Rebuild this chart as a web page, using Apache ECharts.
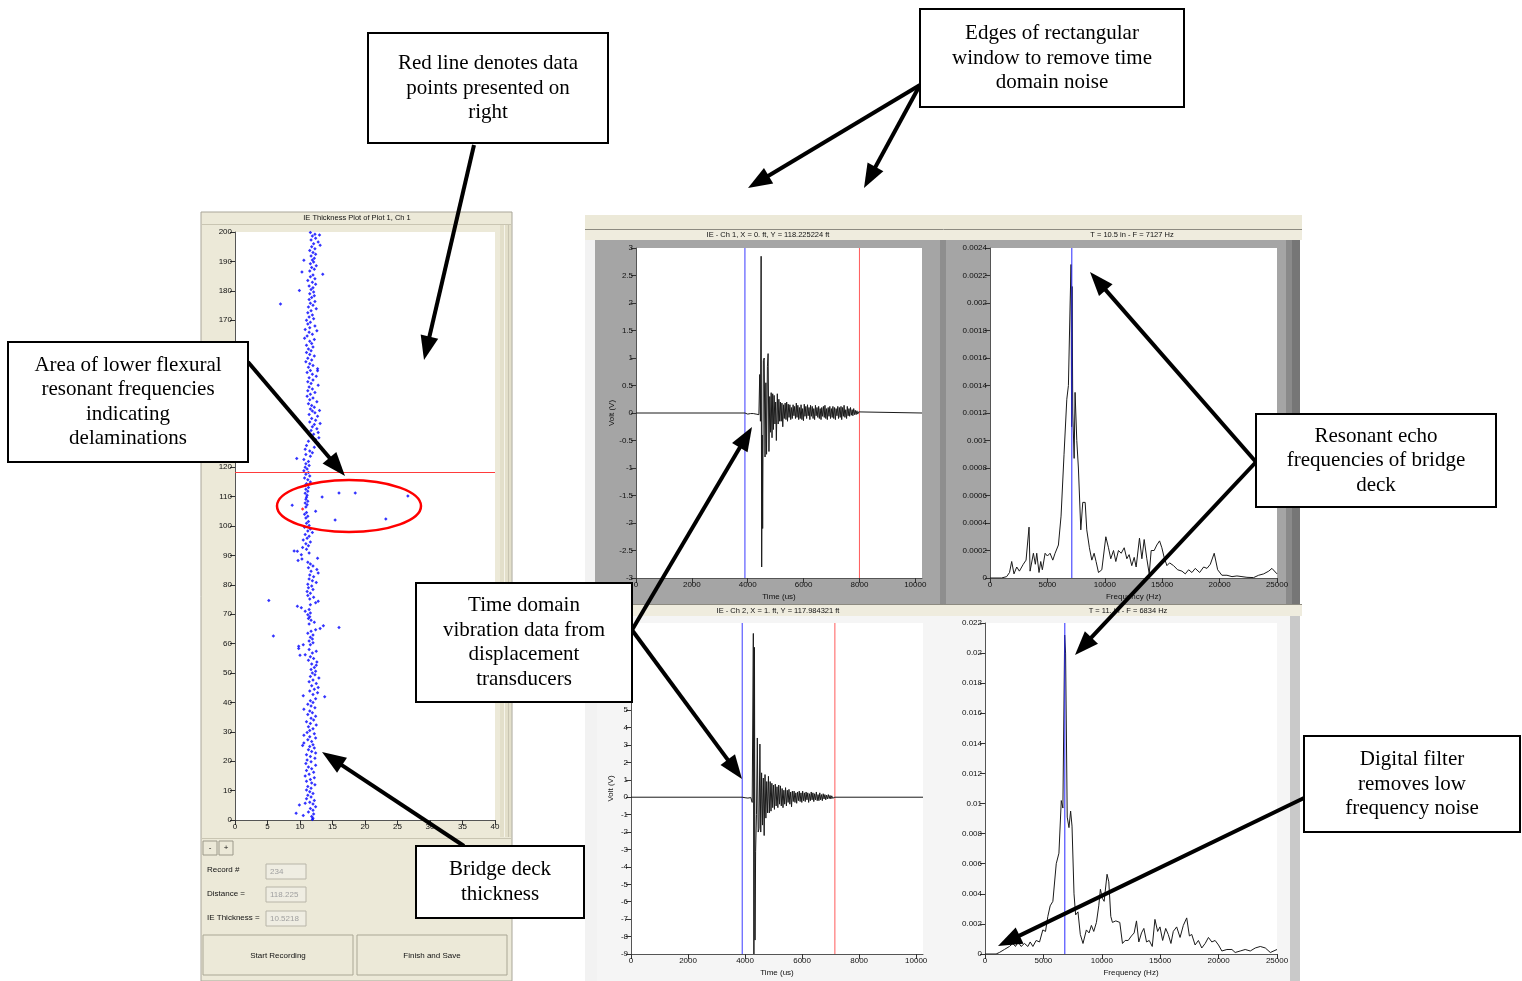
<!DOCTYPE html>
<html><head><meta charset="utf-8">
<script src="https://cdn.jsdelivr.net/npm/echarts@6/dist/echarts.min.js"></script>
<style>html,body{margin:0;padding:0;background:#fff}#c{width:1522px;height:981px}</style>
</head><body><div id="c"></div>
<script>
// ---------- DATA ----------
// IE thickness (in) vs distance (ft)
const thicknessPoints = [
[11.6,199.8],[12.3,199.2],[13.0,199.0],[11.9,198.6],[12.4,197.9],[11.7,197.3],[12.8,196.6],[12.1,196.0],[13.1,195.5],[11.8,195.0],[12.3,194.3],[11.5,193.7],[12.0,193.0],[12.4,192.4],[11.7,191.8],[12.2,191.1],[11.9,190.5],[10.6,190.4],
[12.1,189.8],[11.6,189.2],[12.5,188.5],[11.8,187.9],[12.2,187.3],[10.3,186.4],[11.5,186.7],[13.5,185.6],[12.0,185.4],[11.6,184.8],[12.3,184.1],[11.2,183.5],[11.9,182.9],[12.4,182.2],[11.4,181.6],[12.0,181.0],[11.7,180.4],[9.9,180.1],
[12.1,179.6],[11.5,179.0],[12.2,178.3],[11.8,177.7],[11.4,177.0],[12.3,176.4],[11.6,175.8],[7.0,175.5],[12.0,175.1],[11.3,174.5],[12.5,173.9],[11.7,173.2],[11.2,172.5],[11.9,171.8],[11.4,171.1],[12.1,170.5],[11.0,170.0],
[11.6,169.3],[11.2,168.7],[12.3,168.0],[11.5,167.4],[10.8,166.8],[12.6,166.4],[11.4,165.9],[11.9,165.2],[11.1,164.6],[10.7,163.9],[12.2,163.4],[11.5,162.8],[11.8,162.1],[11.0,161.5],[12.0,160.9],[11.3,160.2],
[11.7,159.6],[11.0,159.0],[11.5,158.3],[12.2,157.8],[11.2,157.1],[11.8,156.5],[10.9,155.9],[11.5,155.2],[12.0,154.6],[11.3,154.0],[12.7,153.5],[11.6,152.9],[12.7,152.8],[11.1,152.2],[11.9,151.6],[12.5,150.9],[11.4,150.4],
[12.0,149.7],[11.2,149.1],[11.7,148.5],[12.8,147.9],[11.4,147.3],[11.9,146.6],[11.2,146.0],[12.3,145.4],[11.6,144.8],[11.1,144.1],[12.0,143.5],[11.5,142.9],[12.6,142.3],[11.3,141.6],[11.8,141.0],[12.2,140.4],
[11.6,139.8],[13.0,139.3],[11.9,139.1],[12.3,138.5],[11.4,137.9],[12.7,137.3],[11.8,136.6],[12.4,136.0],[11.5,135.4],[13.1,134.9],[12.2,134.5],[11.9,133.8],[12.6,133.1],[11.7,132.5],[12.8,131.8],[12.1,131.2],[11.6,130.6],[12.9,130.0],
[12.4,129.4],[11.3,128.8],[12.8,128.1],[11.0,127.4],[12.2,126.8],[10.8,126.1],[11.5,125.5],[11.9,124.9],[10.9,124.3],[11.6,123.7],[9.5,123.0],[10.6,122.6],[11.3,121.9],[10.9,121.2],[11.4,120.6],[10.8,120.0],
[11.1,119.4],[10.6,118.8],[11.3,118.2],[10.9,117.6],[11.5,117.0],[10.7,116.3],[11.2,115.7],[11.6,115.0],[11.0,114.4],[10.8,113.8],[11.3,113.1],[10.9,112.5],[11.2,111.8],[10.8,111.1],[11.1,110.5],[16.0,111.2],[18.5,111.2],[26.6,110.2],
[13.4,109.9],[11.0,109.8],[10.9,109.1],[11.2,108.4],[10.8,107.8],[8.8,107.1],[11.1,107.2],[10.9,106.5],[12.4,105.0],[11.0,104.6],[10.7,104.0],[11.2,103.3],[10.9,102.7],[15.4,102.0],[23.2,102.4],[11.3,101.5],[11.0,100.9],[11.4,100.2],
[10.7,99.6],[11.6,99.0],[11.2,98.3],[11.9,97.8],[10.8,97.1],[11.4,96.5],[11.1,95.8],[10.5,95.2],[11.6,94.6],[10.9,94.0],[11.3,93.3],[10.4,92.7],[11.0,92.1],[9.1,91.5],[9.6,91.4],[11.4,90.8],[10.2,90.2],
[9.7,88.3],[10.3,88.8],[12.7,89.0],[11.2,87.7],[11.6,87.1],[12.0,86.4],[11.3,85.8],[12.6,85.2],[11.7,84.6],[12.8,84.0],[11.5,83.3],[12.1,82.7],[11.4,82.0],[11.9,81.4],[12.5,80.8],[11.2,80.2],
[11.8,79.6],[11.3,79.0],[12.0,78.4],[11.1,77.7],[11.6,77.1],[11.2,76.4],[12.1,75.8],[11.5,75.2],[5.2,74.7],[12.8,74.4],[12.4,73.9],[11.6,73.2],[9.6,72.7],[10.2,72.2],[11.4,71.6],[10.8,71.0],[11.6,70.4],
[11.2,69.8],[11.5,69.1],[11.3,68.5],[11.7,67.9],[12.2,67.3],[11.4,66.7],[13.6,66.1],[16.0,65.5],[13.1,65.1],[12.4,64.7],[11.7,64.2],[11.2,63.5],[5.9,62.6],[12.0,62.9],[11.6,62.2],[11.9,61.6],[11.4,60.9],[12.0,60.3],
[11.6,59.6],[9.8,59.1],[10.5,59.6],[9.8,58.3],[11.4,58.0],[12.5,57.4],[11.9,56.8],[10.0,56.0],[10.8,56.2],[11.6,55.5],[12.1,54.9],[11.3,54.3],[12.6,53.7],[11.8,53.1],[12.5,52.6],[12.2,51.9],[11.7,51.2],[12.4,50.6],[11.9,50.0],
[12.3,49.4],[11.6,48.8],[12.9,48.3],[12.0,47.6],[11.4,47.0],[12.5,46.4],[11.8,45.7],[12.8,45.1],[12.2,44.5],[11.5,43.9],[12.7,43.3],[12.0,42.7],[10.5,42.3],[13.8,41.9],[12.4,41.2],[11.6,40.6],[12.0,40.0],
[11.2,39.4],[11.7,38.8],[12.3,38.2],[10.6,37.7],[11.5,37.1],[11.9,36.5],[11.2,35.9],[12.4,35.3],[11.7,34.6],[12.1,34.0],[11.0,33.4],[11.6,32.8],[12.5,32.3],[11.3,31.7],[12.0,31.0],[11.5,30.4],
[11.1,29.8],[12.2,29.3],[10.6,28.8],[11.5,28.3],[12.4,27.9],[11.2,27.3],[11.8,26.7],[10.6,26.2],[12.0,25.6],[10.4,25.3],[11.5,25.0],[12.2,24.5],[11.3,23.9],[11.8,23.3],[12.4,22.8],[11.0,22.2],[11.6,21.6],[12.3,21.0],[11.1,20.4],
[11.7,19.8],[10.9,19.2],[12.4,18.6],[11.3,18.0],[11.8,17.4],[11.0,16.8],[12.1,16.2],[11.4,15.6],[10.8,15.0],[12.2,14.4],[11.6,13.8],[11.0,13.2],[11.8,12.6],[12.3,12.0],[11.2,11.4],[11.7,10.8],[11.0,10.2],
[11.5,9.6],[12.0,9.0],[11.2,8.4],[11.7,7.8],[11.0,7.2],[12.2,6.6],[11.5,6.0],[10.8,5.7],[9.9,5.1],[12.0,5.4],[12.4,4.5],[11.6,3.9],[12.0,3.3],[11.3,2.7],[9.4,2.3],[12.1,2.0],[10.5,1.5],[11.8,1.2],[12.0,0.6],[11.9,0.2]
];
const selectedPoint = [[10.4,105.8]];
const currentDistance = 118.225;

// Ch 1 time signal [us, V]
const ch1Signal = [
[0,0],[3900,0],[3950,0.01],[4000,-0.02],[4050,0.01],[4100,-0.01],[4150,0.02],[4200,-0.01],[4250,0.01],[4300,-0.02],[4350,0.01],[4400,-0.03],
[4430,0.70],[4455,-0.15],[4480,2.85],[4500,-2.80],[4520,-0.4],[4535,-2.10],[4560,0.95],[4590,1.00],[4620,-0.80],[4650,0.55],[4675,-0.75],[4705,0.85],[4730,1.08],[4760,-0.70],
[4790,0.30],[4815,-0.35],[4840,0.37],[4870,-0.45],[4895,0.35],[4920,-0.30],[4945,0.32],[4975,-0.20],[5000,0.20],[5025,-0.50],[5060,0.35],[5090,-0.20],[5115,0.25],[5145,-0.15],
[5170,0.20],[5200,-0.15],[5225,0.18],[5255,-0.25],[5285,0.15],[5310,-0.10],[5340,0.18],[5370,-0.12],[5395,0.20],[5425,-0.15],[5450,0.16],[5480,-0.08],[5510,0.15],[5540,-0.12],
[5565,0.10],[5595,-0.10],[5625,0.15],[5655,-0.05],[5680,0.12],[5710,-0.10],[5740,0.18],[5765,-0.08],[5795,0.14],[5825,-0.12],[5850,0.10],[5880,-0.10],[5910,0.15],[5940,-0.12],
[5965,0.08],[5995,-0.14],[6025,0.16],[6050,-0.06],[6080,0.12],[6110,-0.10],[6140,0.15],[6165,-0.05],[6195,0.10],[6225,-0.12],[6250,0.14],[6280,-0.06],[6310,0.12],[6340,-0.10],
[6365,0.08],[6395,-0.12],[6425,0.14],[6450,-0.05],[6480,0.10],[6510,-0.08],[6540,0.12],[6565,-0.10],[6595,0.08],[6625,-0.12],[6650,0.10],[6680,-0.06],[6710,0.12],[6740,-0.08],
[6765,0.14],[6795,-0.10],[6825,0.08],[6850,-0.12],[6880,0.10],[6910,-0.06],[6940,0.12],[6965,-0.10],[6995,0.08],[7025,-0.08],[7050,0.12],[7080,-0.10],[7110,0.10],[7140,-0.12],
[7165,0.08],[7195,-0.05],[7225,0.12],[7250,-0.10],[7280,0.10],[7310,-0.08],[7340,0.12],[7365,-0.12],[7395,0.10],[7425,-0.06],[7450,0.14],[7480,-0.08],[7510,0.06],[7540,-0.10],
[7565,0.12],[7595,-0.05],[7625,0.08],[7650,-0.06],[7680,0.10],[7710,-0.04],[7740,0.06],[7765,-0.05],[7795,0.08],[7825,-0.03],[7850,0.05],[7880,-0.03],[7910,0.04],[7940,-0.02],
[7970,0.02],[8000,0],[10240,0]
];
const ch1Window = [3900, 8000];

// Ch 1 spectrum [Hz, amplitude]
const ch1Spectrum = [
[0,0],[1000,0],[1450,0.00001],[1700,0.00004],[1890,0.00012],[2090,0.00003],[2330,0.00008],[2560,0.00005],[2900,0.0001],[3140,0.00013],[3400,0.00037],[3490,0.00005],
[3780,0.00018],[3950,0.0001],[4070,0.00018],[4270,0.00004],[4420,0.00012],[4560,0.00006],[4800,0.00018],[5000,0.00016],[5230,0.00018],[5470,0.00013],[5670,0.00018],[5960,0.00024],
[6190,0.00045],[6450,0.0009],[6690,0.0013],[6830,0.0014],[6980,0.002],[7060,0.00228],[7110,0.0011],[7150,0.00212],[7210,0.0012],[7330,0.00087],[7410,0.00135],[7560,0.001],
[7700,0.0008],[7910,0.00035],[8080,0.00055],[8290,0.00055],[8430,0.00035],[8660,0.00022],[8870,0.00013],[9070,0.00018],[9240,0.00012],[9450,0.00004],[9740,0.00006],[10090,0.0003],
[10320,0.00022],[10520,0.00014],[10760,0.0002],[10960,0.00012],[11190,0.0002],[11430,0.00018],[11690,0.00022],[11920,0.00014],[12120,0.00017],[12350,0.00009],[12560,0.00015],
[12730,0.00008],[13020,0.00029],[13230,0.00014],[13430,0.00028],[13660,0.00014],[13870,0.00003],[14040,0.0002],[14300,0.0002],[14530,0.00024],[14770,0.00027],[14970,0.00022],
[15170,0.00015],[15410,0.00009],[15640,0.00011],[15990,0.00009],[16340,0.00006],[16720,0.00005],[17010,0.00003],[17300,0.00006],[17590,0.00004],[17880,0.00007],[18260,0.00004],
[18610,0.00008],[18900,0.00007],[19190,0.0001],[19530,0.00018],[19830,0.00006],[20200,0.00002],[20640,0.00002],[21080,0.00001],[21510,0.000015],[21950,0.00001],[22380,0.000005],
[22960,0.000003],[23400,0.00002],[23840,0.00003],[24280,0.00005],[24560,0.00007],[25000,0.00003]
];
const ch1PeakHz = 7127;

// Ch 2 time signal [us, V]
const ch2Signal = [
[0,0],[3900,0],[3950,0.02],[4000,-0.03],[4050,0.02],[4100,-0.05],[4150,0.03],[4200,-0.02],[4250,-0.30],[4290,9.4],[4310,-9.0],[4330,8.6],[4350,-8.2],[4370,-3.1],[4400,-1.0],
[4430,3.4],[4460,-2.0],[4490,-1.8],[4520,3.05],[4550,-2.0],[4580,1.4],[4610,-1.6],[4640,1.1],[4670,-2.2],[4700,1.3],[4730,-1.2],[4760,0.9],[4790,-0.9],
[4820,1.2],[4850,-0.9],[4880,0.9],[4910,-0.8],[4940,0.8],[4970,-0.6],[5000,0.7],[5030,-0.7],[5060,0.75],[5090,-0.5],[5120,0.6],[5150,-0.6],[5180,0.7],[5210,-0.4],
[5240,0.65],[5270,-0.5],[5300,0.5],[5330,-0.6],[5360,0.4],[5390,-0.4],[5420,0.55],[5450,-0.5],[5480,0.4],[5510,-0.3],[5540,0.45],[5570,-0.4],[5600,0.3],[5630,-0.55],
[5660,0.35],[5690,-0.25],[5720,0.35],[5750,-0.3],[5780,0.25],[5810,-0.35],[5840,0.3],[5870,-0.2],[5900,0.35],[5930,-0.25],[5960,0.25],[5990,-0.3],[6020,0.35],[6050,-0.2],
[6080,0.25],[6110,-0.25],[6140,0.3],[6170,-0.15],[6200,0.25],[6230,-0.3],[6260,0.2],[6290,-0.2],[6320,0.3],[6350,-0.15],[6380,0.25],[6410,-0.25],[6440,0.2],[6470,-0.15],
[6500,0.3],[6530,-0.2],[6560,0.15],[6590,-0.2],[6620,0.25],[6650,-0.15],[6680,0.15],[6710,-0.2],[6740,0.2],[6770,-0.1],[6800,0.15],[6830,-0.15],[6860,0.12],[6890,-0.1],
[6920,0.15],[6950,-0.08],[6980,0.1],[7010,-0.1],[7040,0.08],[7070,-0.06],[7100,0.05],[7130,-0.03],[7150,0],[10240,0]
];
const ch2Window = [3900, 7150];

// Ch 2 spectrum [Hz, amplitude]
const ch2Spectrum = [
[0,0],[950,0],[1230,0.0001],[1660,0.0003],[2090,0.0005],[2380,0.0007],[2610,0.0005],[2840,0.0008],[3090,0.0005],[3380,0.0007],[3670,0.0005],[3870,0.0008],[4100,0.0005],
[4380,0.0009],[4670,0.0008],[4950,0.0016],[5180,0.0015],[5380,0.0025],[5580,0.0032],[5810,0.0035],[6100,0.006],[6330,0.0067],[6530,0.0102],[6670,0.0097],[6820,0.0212],
[6900,0.020],[7040,0.0091],[7190,0.0084],[7330,0.0095],[7450,0.0085],[7620,0.004],[7760,0.0026],[7960,0.0028],[8160,0.0013],[8390,0.0007],[8680,0.0016],[8910,0.0014],
[9110,0.0019],[9310,0.0015],[9540,0.0021],[9740,0.0032],[9880,0.0043],[10050,0.0037],[10200,0.0035],[10450,0.0053],[10600,0.0048],[10770,0.0025],[10910,0.0021],[11200,0.0022],
[11540,0.0021],[11770,0.0007],[12000,0.0009],[12260,0.0009],[12540,0.0012],[12770,0.0014],[12970,0.0022],[13170,0.0008],[13400,0.0014],[13600,0.0017],[13830,0.0008],
[14060,0.0009],[14320,0.0005],[14550,0.0023],[14780,0.0015],[14980,0.0018],[15210,0.0009],[15470,0.0017],[15690,0.0013],[15920,0.0007],[16120,0.0015],[16410,0.0018],
[16700,0.0011],[16980,0.0019],[17270,0.0024],[17500,0.0012],[17700,0.0013],[17990,0.0006],[18270,0.0009],[18560,0.0004],[18850,0.0007],[19130,0.0011],[19420,0.0008],
[19700,0.0009],[19990,0.0006],[20280,0.0002],[20710,0.0003],[21140,0.0003],[21420,0.0001],[21850,0.0002],[22280,0.0003],[22710,0.0002],[23140,0.0004],[23570,0.0005],
[24000,0.0004],[24430,0.0001],[25000,0.0003]
];
const ch2PeakHz = 6834;

const timeTicks = [0, 2000, 4000, 6000, 8000, 10000];

// ---------- CHART ----------
const FONT = 'Liberation Sans';
const SERIF = '"Liberation Serif"';
const chart = echarts.init(document.getElementById('c'), null, {renderer: 'canvas'});

function fmtNum(v){ return String(+(+v).toFixed(6)); }
function axisBase(gi, min, max, extra){
  return Object.assign({
    gridIndex: gi, type: 'value', min: min, max: max,
    axisLine: {show: true, onZero: false, lineStyle: {color: '#555', width: 1}},
    axisTick: {show: true, length: 5, lineStyle: {color: '#333'}},
    axisLabel: {fontSize: 8, color: '#111', fontFamily: FONT, margin: 3, formatter: fmtNum},
    splitLine: {show: false},
    nameTextStyle: {fontSize: 8, color: '#111', fontFamily: FONT},
    nameLocation: 'middle'
  }, extra || {});
}
function timeX(gi){
  const a = axisBase(gi, 0, 10240, {name: 'Time (us)', nameGap: 15});
  a.axisLabel.customValues = timeTicks;
  a.axisTick.customValues = timeTicks;
  return a;
}
const yExtents = [null, [-3, 3], [0, 0.0024], [-9, 10], [0, 0.022]];
function cursorSeries(gi, value, color){
  const e = yExtents[gi];
  return {type: 'line', xAxisIndex: gi, yAxisIndex: gi, data: [[value, e[0]], [value, e[1]]],
    showSymbol: false, silent: true, z: 3, lineStyle: {color: color, width: 1}};
}

const gridBase = {show: true, backgroundColor: '#ffffff', borderWidth: 0, containLabel: false, outerBoundsMode: 'none'};
const grids = [
  Object.assign({left: 235, top: 232, width: 260, height: 588}, gridBase),
  Object.assign({left: 636, top: 248, width: 286, height: 330}, gridBase),
  Object.assign({left: 990, top: 248, width: 287, height: 330}, gridBase),
  Object.assign({left: 631, top: 623, width: 292, height: 331}, gridBase),
  Object.assign({left: 985, top: 623, width: 292, height: 331}, gridBase)
];

// ---------- annotation graphics ----------
const G = [];
function rect(x,y,w,h,fill,stroke,z,lw){ G.push({type:'rect', z: z==null?-10:z, silent:true, shape:{x:x,y:y,width:w,height:h}, style:{fill:fill, stroke:stroke||null, lineWidth: lw||1}}); }
function txt(x,y,t,size,align,color,z,fam){ G.push({type:'text', z: z==null?-5:z, silent:true, style:{text:t, x:x, y:y, font: size+'px '+(fam||FONT), fill: color||'#111', textAlign: align||'left', align: align||'left', textVerticalAlign:'middle', verticalAlign:'middle'}}); }
function hline(x1,x2,y,color,z){ G.push({type:'line', z: z==null?-9:z, silent:true, shape:{x1:x1,y1:y,x2:x2,y2:y}, style:{stroke:color, lineWidth:1}}); }
function vline(x,y1,y2,color,z){ G.push({type:'line', z: z==null?-9:z, silent:true, shape:{x1:x,y1:y1,x2:x,y2:y2}, style:{stroke:color, lineWidth:1}}); }

// left panel
rect(201,212,311,769,'#ece9d8','#a9a699');
hline(202,511,224.5,'#c9c5b2');
txt(357,218,'IE Thickness Plot of Plot 1, Ch 1',7.5,'center');
rect(500,225,11,612,'#e3dfca');
vline(504.5,225,837,'#f6f4ea');
vline(508.5,225,837,'#c9c5b2');
hline(202,511,838.5,'#c9c5b2');
rect(203,841,14,14,'#ece9d8','#9c998a'); txt(210,848,'-',8,'center');
rect(219,841,14,14,'#ece9d8','#9c998a'); txt(226,848,'+',8,'center');
txt(207,870,'Record #',8,'left');
rect(266,864,40,15,'#efede2','#b8b5a8'); txt(270,871.5,'234',8,'left','#a0a0a0');
txt(207,894,'Distance =',8,'left');
rect(266,887,40,15,'#efede2','#b8b5a8'); txt(270,894.5,'118.225',8,'left','#a0a0a0');
txt(207,918,'IE Thickness =',8,'left');
rect(266,911,40,15,'#efede2','#b8b5a8'); txt(270,918.5,'10.5218',8,'left','#a0a0a0');
rect(203,935,150,40,'#ece9d8','#aaa795'); txt(278,956,'Start Recording',8,'center');
rect(357,935,150,40,'#ece9d8','#aaa795'); txt(432,956,'Finish and Save',8,'center');

// right panels
rect(585,215,717,14,'#ece9d8');
hline(585,1302,229.5,'#8c8a80');
rect(585,230,717,10,'#efecde');
rect(585,240,12,741,'#f2f2f2');
rect(595,240,351,365,'#a5a5a5');
rect(946,240,354,365,'#a5a5a5');
rect(940,240,6,365,'#8e8e8e');
rect(1286,240,14,365,'#8a8a8a');
rect(1292,240,8,365,'#767676');
rect(585,605,717,11,'#efecde');
hline(585,1302,604.5,'#8c8a80');
rect(597,616,349,365,'#f5f5f5');
rect(946,616,354,365,'#f5f5f5');
rect(1290,616,10,365,'#c9c9c9');
txt(768,235,'IE - Ch 1, X = 0. ft, Y = 118.225224 ft',7.5,'center');
txt(1132,235,'T = 10.5 in - F = 7127 Hz',7.5,'center');
txt(778,611,'IE - Ch 2, X = 1. ft, Y = 117.984321 ft',7.5,'center');
txt(1128,611,'T = 11. in - F = 6834 Hz',7.5,'center');

// ellipse around delaminations
G.push({type:'ellipse', z:50, silent:true, shape:{cx:349, cy:506, rx:72, ry:26}, style:{fill:null, stroke:'#ff0000', lineWidth:2.5}});

// arrows
function arrow(x1,y1,x2,y2){
  const dx=x2-x1, dy=y2-y1, len=Math.hypot(dx,dy), ux=dx/len, uy=dy/len;
  const L=24, W=9, bx=x2-ux*L, by=y2-uy*L;
  G.push({type:'line', z:99, silent:true, shape:{x1:x1,y1:y1,x2:bx+ux*3,y2:by+uy*3}, style:{stroke:'#000', lineWidth:4}});
  G.push({type:'polygon', z:99, silent:true, shape:{points:[[x2,y2],[bx-uy*W,by+ux*W],[bx+uy*W,by-ux*W]]}, style:{fill:'#000'}});
}
arrow(474,145,424,360);
arrow(920,85,748,188);
arrow(920,85,864,188);
arrow(248,362,345,476);
arrow(1256,462,1090,272);
arrow(1256,462,1075,655);
arrow(632,630,752,427);
arrow(632,630,742,779);
arrow(464,846,322,752);
arrow(1304,798,998,946);

// annotation boxes
function box(x,y,w,h,lines){
  G.push({type:'rect', z:100, silent:true, shape:{x:x,y:y,width:w,height:h}, style:{fill:'#fff', stroke:'#000', lineWidth:2}});
  G.push({type:'text', z:101, silent:true, style:{text:lines.join('\n'), x:x+w/2, y:y+h/2, font:'21px '+SERIF, lineHeight:24.5, fill:'#000', textAlign:'center', align:'center', textVerticalAlign:'middle', verticalAlign:'middle'}});
}
box(368,33,240,110,['Red line denotes data','points presented on','right']);
box(920,9,264,98,['Edges of rectangular','window to remove time','domain noise']);
box(8,342,240,120,['Area of lower flexural','resonant frequencies','indicating','delaminations']);
box(1256,414,240,93,['Resonant echo','frequencies of bridge','deck']);
box(416,583,216,119,['Time domain','vibration data from','displacement','transducers']);
box(416,846,168,72,['Bridge deck','thickness']);
box(1304,736,216,96,['Digital filter','removes low','frequency noise']);

const option = {
  animation: false,
  backgroundColor: '#ffffff',
  grid: grids,
  xAxis: [
    axisBase(0, 0, 40, {interval: 5}),
    timeX(1),
    axisBase(2, 0, 25000, {interval: 5000, name: 'Frequency (Hz)', nameGap: 15}),
    timeX(3),
    axisBase(4, 0, 25000, {interval: 5000, name: 'Frequency (Hz)', nameGap: 15})
  ],
  yAxis: [
    axisBase(0, 0, 200, {interval: 10}),
    axisBase(1, -3, 3, {interval: 0.5, name: 'Volt (V)', nameGap: 18}),
    axisBase(2, 0, 0.0024, {interval: 0.0002}),
    axisBase(3, -9, 10, {interval: 1, name: 'Volt (V)', nameGap: 13}),
    axisBase(4, 0, 0.022, {interval: 0.002})
  ],
  graphic: {elements: G},
  series: [
    {type: 'scatter', xAxisIndex: 0, yAxisIndex: 0, data: thicknessPoints, symbol: 'diamond', symbolSize: 3.5,
     itemStyle: {color: '#0000ff'}, silent: true,
     markLine: {silent: true, symbol: ['none','none'], label: {show: false}, animation: false,
       lineStyle: {color: '#ff3b3b', width: 1, type: 'solid'},
       data: [{yAxis: currentDistance}]}},
    {type: 'scatter', xAxisIndex: 0, yAxisIndex: 0, data: selectedPoint, symbol: 'diamond', symbolSize: 3.5,
     itemStyle: {color: '#ff0000'}, silent: true},
    cursorSeries(1, ch1Window[0], '#3a3aff'),
    cursorSeries(1, ch1Window[1], '#ff5a5a'),
    {type: 'line', xAxisIndex: 1, yAxisIndex: 1, data: ch1Signal, showSymbol: false, silent: true, z: 4,
     lineStyle: {color: '#1a1a1a', width: 1}},
    {type: 'line', xAxisIndex: 2, yAxisIndex: 2, data: ch1Spectrum, showSymbol: false, silent: true, z: 2,
     lineStyle: {color: '#1a1a1a', width: 1}},
    cursorSeries(2, ch1PeakHz, '#2a2aff'),
    cursorSeries(3, ch2Window[0], '#3a3aff'),
    cursorSeries(3, ch2Window[1], '#ff5a5a'),
    {type: 'line', xAxisIndex: 3, yAxisIndex: 3, data: ch2Signal, showSymbol: false, silent: true, z: 4,
     lineStyle: {color: '#1a1a1a', width: 1}},
    {type: 'line', xAxisIndex: 4, yAxisIndex: 4, data: ch2Spectrum, showSymbol: false, silent: true, z: 2,
     lineStyle: {color: '#1a1a1a', width: 1}},
    cursorSeries(4, ch2PeakHz, '#2a2aff')
  ]
};
chart.setOption(option);
</script></body></html>
